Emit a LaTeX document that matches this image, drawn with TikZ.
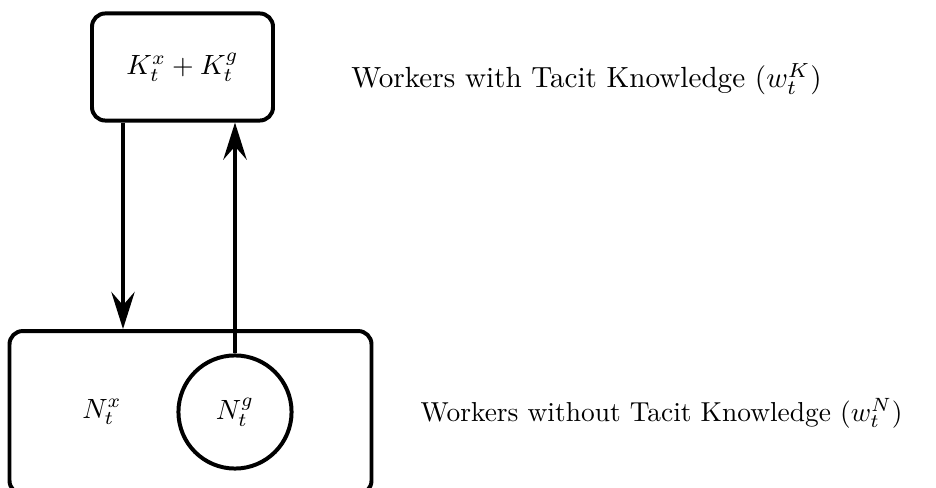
\documentclass[tikz,border=0pt]{standalone}
\usetikzlibrary{arrows.meta}
\begin{document}
\begin{tikzpicture}[x=0.01326cm,y=-0.01326cm,
  box/.style={draw,line width=1.5pt,rounded corners=5pt,inner sep=0pt},
  circ/.style={draw,circle,line width=1.5pt,inner sep=0pt},
  mtext/.style={scale=1.05},
  conn/.style={line width=1.5pt,-{Stealth[length=14pt,width=8.8pt,inset=5pt]}}]
\useasboundingbox (0,0) rectangle (936,488);
\node[box,minimum width=2.40cm,minimum height=1.42cm] (top) at (182.5,67) {\scalebox{1.05}{$K_t^x + K_t^g$}};
\node[box,minimum width=4.80cm,minimum height=2.16cm] (bot) at (190.5,412.5) {};
\node[mtext] (nx) at (102,412) {$N_t^x$};
\node[circ,minimum size=1.50cm] (ng) at (235,412) {\scalebox{1.05}{$N_t^g$}};
\node[anchor=west,scale=1.10] (lk) at (341,79) {Workers with Tacit Knowledge ($w_t^K$)};
\node[anchor=west,scale=1.035] (ln) at (411,413) {Workers without Tacit Knowledge ($w_t^N$)};
\draw[conn] (top.south -| 123,0) -- (bot.north -| 123,0);
\draw[conn] (ng.north) -- (ng.north |- top.south);
\end{tikzpicture}
\end{document}
